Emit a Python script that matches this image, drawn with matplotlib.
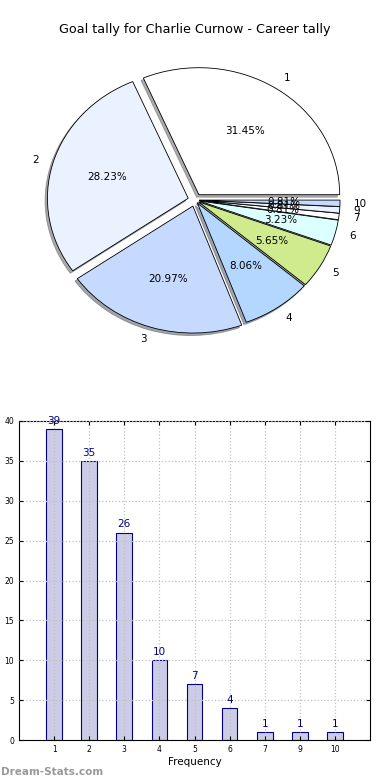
import matplotlib
matplotlib.use("Agg")
import matplotlib.pyplot as plt
import numpy as np

title = "Goal tally for Charlie Curnow - Career tally"
goal_labels = ["1", "2", "3", "4", "5", "6", "7", "9", "10"]
counts = [39, 35, 26, 10, 7, 4, 1, 1, 1]
slice_colors = ["#ffffff", "#eaf1ff", "#c6d9ff", "#b3d7ff", "#d0ea8e",
                "#dcffff", "#ffffff", "#eaf1ff", "#c6d9ff"]
explode = [0.05, 0.05, 0.05, 0.03, 0.03, 0.03, 0.03, 0.03, 0.03]

fig = plt.figure(figsize=(3.9, 7.8), dpi=100)
fig.text(0.5, 1 - 30 / 780, title, ha="center", va="center", fontsize=9.2)

# pie (not equal aspect: the original is slightly squashed vertically)
ax1 = fig.add_axes([19 / 390, 1 - 358.75 / 780, 352 / 390, 317.5 / 780])
wedges, texts, autotexts = ax1.pie(
    counts, labels=goal_labels, colors=slice_colors, explode=explode,
    autopct="%1.2f%%", pctdistance=0.6, labeldistance=1.1,
    shadow={"ox": -0.012, "oy": -0.014, "shade": 0.65},
    startangle=0, wedgeprops=dict(edgecolor="black", linewidth=0.6),
    textprops=dict(fontsize=7.5))
ax1.set_aspect("auto")
ax1.set_xlim(-1.25, 1.25)
ax1.set_ylim(-1.25, 1.25)

# bars
ax2 = fig.add_axes([19 / 390, 40 / 780, 351 / 390, 319 / 780])
x = np.arange(1, len(counts) + 1)
ax2.bar(x, counts, width=0.45, color="#ccccE6", edgecolor="#000080",
        linewidth=0.8, zorder=1)
for xi, c in zip(x, counts):
    ax2.text(xi, c + 0.4, str(c), ha="center", va="bottom",
             color="#000080", fontsize=7.5)
ax2.set_xlim(0, 10)
ax2.set_ylim(0, 40)
ax2.set_xticks(x)
ax2.set_xticklabels(goal_labels)
ax2.set_yticks(np.arange(0, 41, 5))
ax2.tick_params(labelsize=5.5, direction="in", top=True, right=True, length=3)
ax2.grid(True, linestyle=":", color="#c0c0c0", linewidth=0.9, zorder=3)
ax2.set_axisbelow(False)
ax2.set_xlabel("Frequency", fontsize=7.5, labelpad=2)

fig.text(0.003, 0.004, "Dream-Stats.com", color="#999999", fontsize=7.5,
         fontweight="bold", ha="left", va="bottom")

fig.savefig("out.png", dpi=100)
